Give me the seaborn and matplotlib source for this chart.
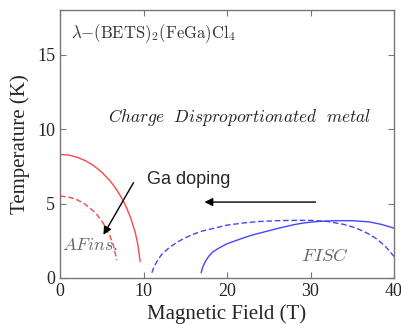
import pandas as pd
import matplotlib
matplotlib.use("Agg")
import matplotlib.pyplot as plt
import seaborn as sns

# phase boundaries (field in T, temperature in K)
red_solid_h = [0, 1, 2, 3, 4, 5, 6, 6.5, 7, 7.5, 8, 8.5, 9, 9.3, 9.6]
red_solid_t = [8.3, 8.26, 8.12, 7.89, 7.56, 7.11, 6.52, 6.16, 5.74, 5.26, 4.68, 3.98, 3.08, 2.33, 1.1]

red_dash_h = [0, 1, 2, 3, 4, 4.5, 5, 5.5, 6, 6.4, 6.8]
red_dash_t = [5.5, 5.44, 5.27, 4.96, 4.5, 4.2, 3.83, 3.38, 2.8, 2.18, 1.2]

blue_dash_h = [11, 11.3, 11.7, 12.2, 13, 14, 15, 16, 17, 18.5, 20, 22, 24, 26, 28, 30,
               32, 34, 35.5, 37, 38, 39, 40]
blue_dash_t = [0.35, 0.8, 1.2, 1.6, 2.0, 2.4, 2.7, 2.95, 3.15, 3.35, 3.55, 3.7, 3.8, 3.85,
               3.87, 3.87, 3.8, 3.6, 3.35, 2.95, 2.6, 2.1, 1.45]

blue_solid_h = [16.9, 17.1, 17.4, 17.8, 18.3, 19, 20, 21, 22, 23, 24, 25, 26, 27, 28, 29,
                30, 31, 33, 35, 37, 38.5, 40]
blue_solid_t = [0.35, 0.75, 1.1, 1.45, 1.75, 2.0, 2.3, 2.5, 2.7, 2.88, 3.03, 3.17, 3.32,
                3.45, 3.58, 3.68, 3.75, 3.8, 3.85, 3.85, 3.77, 3.6, 3.35]

x_ticks = [0, 10, 20, 30, 40]
y_ticks = [0, 5, 10, 15]

sns.set_style("ticks")
plt.rcParams['font.family'] = ['Liberation Serif', 'DejaVu Serif']
plt.rcParams['mathtext.fontset'] = 'cm'

fig = plt.figure(figsize=(4.02, 3.24), dpi=100)
ax = fig.add_axes([60 / 402, 1 - 278 / 324, 334 / 402, 268 / 324])

red = '#ff4545'
blue = '#4545ff'
curves = [
    (red_solid_h, red_solid_t, red, '-'),
    (red_dash_h, red_dash_t, red, (0, (4, 2))),
    (blue_dash_h, blue_dash_t, blue, (0, (4, 2))),
    (blue_solid_h, blue_solid_t, blue, '-'),
]
for h, t, c, ls in curves:
    df = pd.DataFrame({'H': h, 'T': t})
    sns.lineplot(data=df, x='H', y='T', sort=False, color=c, linewidth=1.0,
                 linestyle=ls, ax=ax)

ax.set_xlim(0, 40)
ax.set_ylim(0, 18)
ax.set_xticks(x_ticks)
ax.set_yticks(y_ticks)
ax.tick_params(direction='in', top=True, right=True, labelsize=13,
               length=4, color='#777777')
for s in ax.spines.values():
    s.set_color('#777777')
    s.set_linewidth(1.0)
ax.set_xlabel('Magnetic Field (T)', fontsize=15, labelpad=3)
ax.set_ylabel('Temperature (K)', fontsize=15, labelpad=5)

ax.text(1.3, 16.4, r'$\lambda\mathrm{-(BETS)_2(FeGa)Cl_4}$', fontsize=12,
        color='#333333', va='center')
ax.text(5.7, 10.8, r'$Charge\ \ Disproportionated\ \ metal$', fontsize=12.5,
        color='#222222', va='center')
ax.text(0.2, 2.2, r'$AFins.$', fontsize=13, color='#666666', va='center')
ax.text(28.9, 1.45, r'$FISC$', fontsize=13.5, color='#666666', va='center')
ax.text(10.4, 6.6, 'Ga doping', fontsize=13, family=['Liberation Sans'],
        va='center')

ax.annotate('', xy=(5.2, 2.9), xytext=(8.8, 6.4),
            arrowprops=dict(arrowstyle='-|>', color='black', lw=1.0,
                            mutation_scale=12, shrinkA=0, shrinkB=0))
ax.annotate('', xy=(17.3, 5.1), xytext=(30.6, 5.1),
            arrowprops=dict(arrowstyle='-|>', color='black', lw=1.0,
                            mutation_scale=12, shrinkA=0, shrinkB=0))

plt.savefig('out.png', dpi=100)
